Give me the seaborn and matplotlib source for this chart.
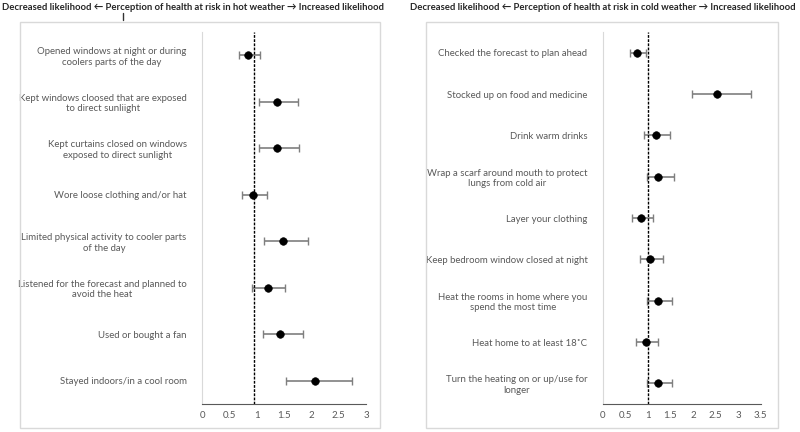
import numpy as np
import pandas as pd
import matplotlib
matplotlib.use('Agg')
import matplotlib.pyplot as plt
import seaborn as sns
from matplotlib.patches import Rectangle
from matplotlib.lines import Line2D

# hot weather panel
hot_labels = ['Opened windows at night or during\ncoolers parts of the day',
              'Kept windows cloosed that are exposed\nto direct sunliight',
              'Kept curtains closed on windows\nexposed to direct sunlight',
              'Wore loose clothing and/or hat',
              'Limited physical activity to cooler parts\nof the day',
              'Listened for the forecast and planned to\navoid the heat',
              'Used or bought a fan',
              'Stayed indoors/in a cool room']
hot_or = [0.85, 1.37, 1.38, 0.93, 1.49, 1.20, 1.43, 2.07]
hot_lo = [0.67, 1.05, 1.05, 0.73, 1.13, 0.91, 1.12, 1.54]
hot_hi = [1.07, 1.76, 1.77, 1.19, 1.93, 1.52, 1.85, 2.74]
hot_ref = 0.95

# cold weather panel
cold_labels = ['Checked the forecast to plan ahead',
               'Stocked up on food and medicine',
               'Drink warm drinks',
               'Wrap a scarf around mouth to protect\nlungs from cold air',
               'Layer your clothing',
               'Keep bedroom window closed at night',
               'Heat the rooms in home where you\nspend the most time',
               'Heat home to at least 18˚C',
               'Turn the heating on or up/use for\nlonger']
cold_or = [0.76, 2.54, 1.17, 1.23, 0.84, 1.05, 1.22, 0.95, 1.23]
cold_lo = [0.61, 1.98, 0.92, 0.99, 0.64, 0.83, 0.97, 0.74, 0.99]
cold_hi = [0.96, 3.28, 1.48, 1.57, 1.11, 1.34, 1.54, 1.23, 1.54]
cold_ref = 1.0

sns.set_style('white')
plt.rcParams['font.family'] = ['Lato', 'DejaVu Sans']

fig = plt.figure(figsize=(8, 4.32), dpi=100)

# panel frames
for x0, w in [(0.025, 0.45), (0.5325, 0.44)]:
    fig.add_artist(Rectangle((x0, 0.009), w, 0.94, transform=fig.transFigure,
                             fill=False, edgecolor='#d9d9d9', linewidth=1))

titles = ['Decreased likelihood \u2190 Perception of health at risk in hot weather \u2192 Increased likelihood',
          'Decreased likelihood \u2190 Perception of health at risk in cold weather \u2192 Increased likelihood']
fig.text(0.241, 0.982, titles[0], ha='center', va='center', fontsize=6.85, fontweight='bold')
fig.text(0.754, 0.982, titles[1], ha='center', va='center', fontsize=6.85, fontweight='bold')
fig.add_artist(Line2D([0.154, 0.154], [0.953, 0.97], transform=fig.transFigure,
                      color='#333333', linewidth=1))


def forest(ax, labels, odds, lo, hi, ref, xmax, step):
    df = pd.DataFrame({'label': labels, 'or': odds, 'lo': lo, 'hi': hi})
    pos = np.arange(len(df))
    ax.errorbar(df['or'], pos, xerr=[df['or'] - df['lo'], df['hi'] - df['or']],
                fmt='none', ecolor='#7f7f7f', elinewidth=1.2, capsize=3, capthick=1)
    sns.scatterplot(x=df['or'], y=pos, ax=ax, color='black', s=30, edgecolor='black', zorder=3)
    ax.axvline(ref, color='black', linestyle=(0, (2, 1)), linewidth=1, zorder=2)
    ax.set_ylim(len(df) - 0.5, -0.5)
    ax.set_xlim(0, xmax)
    ticks = np.arange(0, xmax + 0.01, step)
    ax.set_xticks(ticks)
    ax.set_xticklabels([f'{v:g}' for v in ticks])
    ax.set_yticks(pos)
    ax.set_yticklabels(df['label'], multialignment='center')
    ax.tick_params(axis='y', length=0, pad=11, labelsize=6.9, labelcolor='#595959')
    ax.tick_params(axis='x', direction='out', length=3, width=0.8, color='#595959',
                   labelsize=7, labelcolor='#595959', pad=2)
    ax.set_xlabel('')
    ax.set_ylabel('')
    for s in ['top', 'right']:
        ax.spines[s].set_visible(False)
    ax.spines['left'].set_color('#d9d9d9')
    ax.spines['left'].set_linewidth(0.8)
    ax.spines['bottom'].set_color('#595959')
    ax.spines['bottom'].set_linewidth(0.8)


ax1 = fig.add_axes([0.2525, 0.0648, 0.205, 0.861])
forest(ax1, hot_labels, hot_or, hot_lo, hot_hi, hot_ref, 3, 0.5)
ax2 = fig.add_axes([0.7534, 0.0648, 0.1975, 0.861])
forest(ax2, cold_labels, cold_or, cold_lo, cold_hi, cold_ref, 3.5, 0.5)

fig.savefig('out.png', dpi=100)
